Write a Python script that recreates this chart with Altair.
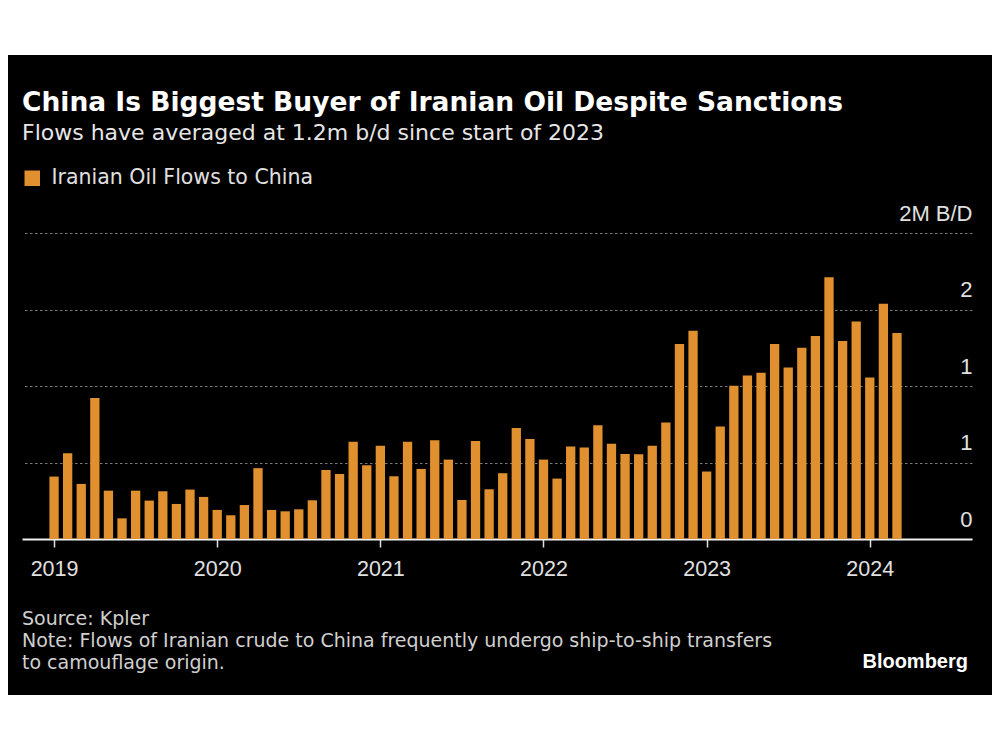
import altair as alt
import pandas as pd

# ---------------- data ----------------
years = [2019, 2020, 2021, 2022, 2023, 2024]
months = [f"{y}-{m:02d}" for y in years for m in range(1, 13)][:63]
flows = [
    0.408, 0.561, 0.360, 0.921, 0.316, 0.135, 0.316, 0.251, 0.312, 0.229, 0.323, 0.275,  # 2019
    0.190, 0.155, 0.222, 0.463, 0.190, 0.181, 0.194, 0.253, 0.451, 0.425, 0.635, 0.482,  # 2020
    0.609, 0.410, 0.635, 0.458, 0.646, 0.519, 0.255, 0.641, 0.325, 0.430, 0.726, 0.654,  # 2021
    0.519, 0.395, 0.604, 0.598, 0.744, 0.622, 0.556, 0.554, 0.609, 0.761, 1.274, 1.361,  # 2022
    0.441, 0.735, 1.001, 1.069, 1.086, 1.274, 1.121, 1.250, 1.327, 1.710, 1.294, 1.422,  # 2023
    1.056, 1.538, 1.346,                                                                  # 2024
]
series_name = "Iranian Oil Flows to China"
y_ticks = [0, 0.5, 1, 1.5, 2]
x_tick_idx = [0, 12, 24, 36, 48, 60]

title_text = "China Is Biggest Buyer of Iranian Oil Despite Sanctions"
subtitle_text = "Flows have averaged at 1.2m b/d since start of 2023"
source_text = "Source: Kpler"
note_lines = [
    "Note: Flows of Iranian crude to China frequently undergo ship-to-ship transfers",
    "to camouflage origin.",
]
brand_text = "Bloomberg"

df = pd.DataFrame({
    "month": months,
    "idx": list(range(len(months))),
    "flow": flows,
    "series": [series_name] * len(months),
})

FONT = "Liberation Sans"
TFONT = "DejaVu Sans"
ORANGE = "#E0902E"
W, H = 950, 306
one = pd.DataFrame({"a": [0]})

# white strips above / below the black panel (chart background is black)
top_white = alt.Chart(one).mark_rect(color="white").encode(
    x=alt.value(-60), x2=alt.value(1060), y=alt.value(-240), y2=alt.value(-178)
)
bottom_white = alt.Chart(one).mark_rect(color="white").encode(
    x=alt.value(-60), x2=alt.value(1060), y=alt.value(462), y2=alt.value(520)
)

bars = alt.Chart(df).mark_bar(width=9.3).encode(
    x=alt.X(
        "idx:Q",
        scale=alt.Scale(domain=[-1.99, 67.15], nice=False, zero=False),
        axis=alt.Axis(
            values=x_tick_idx,
            labelExpr="toString(2019 + datum.value / 12)",
            title=None, grid=False,
            domainColor="#f0f0f0", domainWidth=2,
            tickColor="#e0e0e0", tickSize=8, tickWidth=1.5,
            labelColor="#e0e0e0", labelFontSize=21.5, labelFont=FONT,
            labelPadding=11,
        ),
    ),
    y=alt.Y(
        "flow:Q",
        scale=alt.Scale(domain=[0, 2], nice=False),
        axis=alt.Axis(
            orient="right",
            values=y_ticks,
            labelExpr="datum.value == 2 ? '2M B/D' : format(datum.value, '.0f')",
            title=None, grid=True, gridDash=[2.5, 2.5], gridColor="#7a7a7a", gridWidth=1.2,
            domain=False, ticks=False,
            labelAlign="right", labelPadding=0, labelBaseline="alphabetic", labelOffset=-13,
            labelColor="#e0e0e0", labelFontSize=22, labelFont=FONT,
        ),
    ),
    color=alt.Color(
        "series:N",
        scale=alt.Scale(range=[ORANGE]),
        legend=alt.Legend(
            title=None, orient="none", legendX=0, legendY=-65,
            symbolType="square", symbolSize=240, symbolStrokeWidth=0,
            labelFont=TFONT, labelFontSize=20.5, labelColor="#e0e0e0", labelOffset=9,
            labelLimit=0, padding=0,
        ),
    ),
)

def text_layer(txt, x, y, size, color, weight="normal", align="left", font=TFONT):
    return alt.Chart(one).mark_text(
        align=align, baseline="alphabetic", font=font, fontSize=size,
        fontWeight=weight, color=color,
    ).encode(x=alt.value(x), y=alt.value(y), text=alt.value(txt))

texts = [
    text_layer(title_text, 0, -122, 26.5, "white", weight="bold"),
    text_layer(subtitle_text, 0, -93, 22, "#e6e6e6"),
    text_layer(source_text, 0, 392, 19, "#d0d0d0"),
    text_layer(note_lines[0], 0, 414, 19, "#d0d0d0"),
    text_layer(note_lines[1], 0, 436, 19, "#d0d0d0"),
    text_layer(brand_text, 946, 435, 20, "white", weight="bold", align="right", font=FONT),
]

chart = alt.layer(bars, top_white, bottom_white, *texts).properties(
    width=W, height=H,
    padding={"left": 14, "top": 225, "right": 20, "bottom": 181},
    autosize=alt.AutoSizeParams(type="none"),
    background="black",
).configure_view(stroke=None)

chart.save("out.html", embed_options={"renderer": "svg", "actions": False})
